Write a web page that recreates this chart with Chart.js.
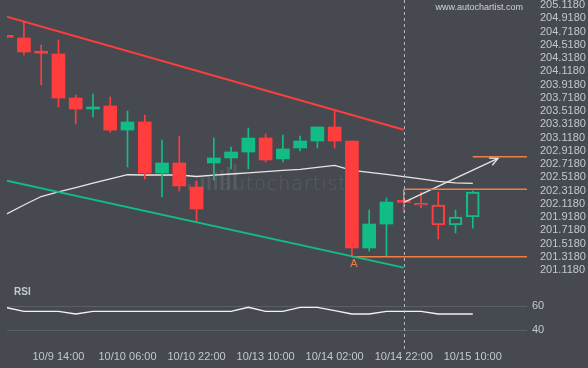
<!DOCTYPE html>
<html>
<head>
<meta charset="utf-8">
<script src="https://cdn.jsdelivr.net/npm/chart.js@4.4.1/dist/chart.umd.min.js"></script>
<style>
  html, body { margin: 0; padding: 0; background: #464a50; }
  #wrap { position: relative; width: 588px; height: 368px; overflow: hidden; background: #464a50; }
  #main { position: absolute; left: 0; top: 0; }
  #rsi { position: absolute; left: 0; top: 280px; }
</style>
</head>
<body>
<div id="wrap">
  <canvas id="main" width="588" height="280"></canvas>
  <canvas id="rsi" width="588" height="88"></canvas>
</div>
<script>
// 4h candles, index 0..27 (24+ are projected)
const opens  = [204.64, 204.62, 204.408, 204.378, 203.714, 203.548, 203.593, 203.23, 203.352, 202.582, 202.733, 202.37, 202.733, 202.809, 202.899, 203.11, 202.794, 202.96, 203.065, 203.277, 203.065, 201.45, 201.812, 202.15, 202.125, 202.099, 201.797, 201.918];
const highs  = [204.65, 204.876, 204.514, 204.59, 203.76, 203.775, 203.73, 203.518, 203.458, 203.08, 203.14, 202.461, 203.11, 202.975, 203.261, 203.171, 203.156, 203.14, 203.277, 203.533, 203.065, 202.024, 202.205, 202.22, 202.295, 202.295, 202.024, 202.31];
const lows   = [204.62, 204.363, 203.91, 203.578, 203.322, 203.427, 203.2, 202.673, 202.492, 202.22, 202.31, 201.858, 202.477, 202.643, 202.643, 202.748, 202.748, 202.914, 202.96, 202.96, 201.314, 201.405, 201.33, 201.98, 202.054, 201.586, 201.677, 201.752];
const closes = [204.63, 204.409, 204.39, 203.714, 203.548, 203.578, 203.23, 203.352, 202.582, 202.733, 202.386, 202.039, 202.809, 202.899, 203.11, 202.778, 202.945, 203.065, 203.277, 203.065, 201.45, 201.812, 202.144, 202.14, 202.095, 201.797, 201.918, 202.295];
const movingAvg = [201.963, 202.099, 202.227, 202.297, 202.363, 202.428, 202.494, 202.556, 202.552, 202.552, 202.552, 202.529, 202.549, 202.567, 202.585, 202.602, 202.621, 202.638, 202.668, 202.698, 202.623, 202.590, 202.560, 202.529, 202.492, 202.457, 202.434, 202.427];
const rsiValues = [58.9, 55.8, 55.8, 55.8, 53.6, 55.8, 55.8, 55.8, 55.8, 55.8, 55.8, 55.8, 55.8, 55.8, 59.2, 55.8, 55.8, 59.2, 59.2, 56.4, 53.6, 53.6, 55.8, 55.8, 55.8, 53.6, 53.6, 53.6];
const futureStart = 24;
const nowIndex = 23;

const resistance = [204.941, 203.235];   // at index 0 and nowIndex
const support    = [202.466, 201.154];
const levels     = [202.828, 202.336, 201.319];
const levelStart = [27, 23, 20];
const arrowFrom  = [23, 202.14];
const arrowTo    = [28.46, 202.804];

const yTickLabels = ['205.1180', '204.9180', '204.7180', '204.5180', '204.3180', '204.1180', '203.9180', '203.7180', '203.5180', '203.3180', '203.1180', '202.9180', '202.7180', '202.5180', '202.3180', '202.1180', '201.9180', '201.7180', '201.5180', '201.3180', '201.1180'];
const rsiTicks = [60, 40];
const xTickIdx = [3, 7, 11, 15, 19, 23, 27];
const xTickLabels = ['10/9 14:00', '10/10 06:00', '10/10 22:00', '10/13 10:00', '10/14 02:00', '10/14 22:00', '10/15 10:00'];

const RED = '#ff3d3d', GREEN = '#12bd85', ORANGE = '#f07d42', TXT = '#c3c7ce', BG = '#464a50';
const X_MIN = 0.02, X_MAX = 30.14;
const FONT = 'Liberation Sans, Arial, sans-serif';

const colorOf = i => closes[i] >= opens[i] ? GREEN : RED;
const idx = opens.map((_, i) => i);

const bodies = {
  type: 'bar', order: 1, grouped: false, barThickness: 13, minBarLength: 2, borderSkipped: false,
  data: idx.map(i => ({ x: i, y: [opens[i], closes[i]] })),
  backgroundColor: idx.map(i => i < futureStart ? colorOf(i) : 'rgba(0,0,0,0)'),
  borderColor: idx.map(colorOf),
  borderWidth: idx.map(i => i < futureStart ? 0 : 1.5)
};
const wickUp = {
  type: 'bar', order: 2, grouped: false, barThickness: 1, borderWidth: 0,
  data: idx.map(i => ({ x: i, y: [Math.max(opens[i], closes[i]), highs[i]] })),
  backgroundColor: idx.map(colorOf)
};
const wickDown = {
  type: 'bar', order: 2, grouped: false, barThickness: 1, borderWidth: 0,
  data: idx.map(i => ({ x: i, y: [lows[i], Math.min(opens[i], closes[i])] })),
  backgroundColor: idx.map(colorOf)
};
const lineDs = (pts, color, width, order) => ({
  type: 'line', order: order, data: pts, borderColor: color, borderWidth: width,
  pointRadius: 0, fill: false, tension: 0
});

const mainDatasets = [
  lineDs(movingAvg.map((v, i) => ({ x: i, y: v })), '#e6e6e6', 1.3, 3),
  bodies, wickUp, wickDown,
  lineDs([{ x: 0, y: resistance[0] }, { x: nowIndex, y: resistance[1] }], RED, 2, 0),
  lineDs([{ x: 0, y: support[0] }, { x: nowIndex, y: support[1] }], GREEN, 2, 0),
  ...levels.map((v, k) => lineDs([{ x: levelStart[k], y: v }, { x: X_MAX, y: v }], ORANGE, 1.5, 0)),
  lineDs([{ x: arrowFrom[0], y: arrowFrom[1] }, { x: arrowTo[0], y: arrowTo[1] }], '#e6e6e6', 1.3, 0)
];
const arrowIdx = mainDatasets.length - 1;

const noPad = s => { s.paddingTop = 0; s.paddingBottom = 0; };

const decor = {
  id: 'decor',
  beforeDatasetsDraw(chart) {
    const { ctx } = chart;
    // watermark
    ctx.save();
    ctx.fillStyle = 'rgba(110,114,120,0.4)';
    const hs = [6, 9, 12, 15, 18, 20, 23, 26];
    hs.forEach((h, k) => {
      const bx = 188 + k * 6.5;
      ctx.fillRect(bx, 190 - h, 3, h);
    });
    ctx.font = '300 19px "DejaVu Sans", sans-serif';
    ctx.fillStyle = 'rgba(100,104,111,0.6)';
    ctx.textBaseline = 'alphabetic';
    if ('letterSpacing' in ctx) ctx.letterSpacing = '1px';
    ctx.fillText('autochartist', 220, 190);
    ctx.restore();
  },
  afterDatasetsDraw(chart) {
    const { ctx, scales: { x, y } } = chart;
    ctx.save();
    // arrow head
    const pts = chart.getDatasetMeta(arrowIdx).data;
    const a = pts[0], b = pts[1];
    const ang = Math.atan2(b.y - a.y, b.x - a.x);
    ctx.strokeStyle = '#e6e6e6';
    ctx.lineWidth = 1.3;
    ctx.beginPath();
    ctx.moveTo(b.x - 9 * Math.cos(ang - 0.45), b.y - 9 * Math.sin(ang - 0.45));
    ctx.lineTo(b.x, b.y);
    ctx.lineTo(b.x - 9 * Math.cos(ang + 0.45), b.y - 9 * Math.sin(ang + 0.45));
    ctx.stroke();
    // box edge
    const nx = x.getPixelForValue(nowIndex);
    ctx.strokeStyle = ORANGE;
    ctx.lineWidth = 1.5;
    ctx.beginPath();
    ctx.moveTo(nx, y.getPixelForValue(levels[1]));
    ctx.lineTo(nx, y.getPixelForValue(closes[nowIndex]));
    ctx.stroke();
    // dashed "now" line
    ctx.strokeStyle = '#b4b8be';
    ctx.lineWidth = 1;
    ctx.setLineDash([3, 3]);
    ctx.beginPath();
    ctx.moveTo(Math.round(nx) + 0.5, 0);
    ctx.lineTo(Math.round(nx) + 0.5, chart.height);
    ctx.stroke();
    ctx.setLineDash([]);
    // point label
    ctx.fillStyle = ORANGE;
    ctx.font = '11px ' + FONT;
    ctx.textAlign = 'center';
    ctx.textBaseline = 'middle';
    ctx.fillText('A', x.getPixelForValue(20) + 2, y.getPixelForValue(levels[2]) + 7);
    // site
    ctx.fillStyle = '#cfd3d9';
    ctx.font = '9px ' + FONT;
    ctx.textAlign = 'right';
    ctx.fillText('www.autochartist.com', 523, 8);
    ctx.restore();
  }
};

new Chart(document.getElementById('main'), {
  data: { datasets: mainDatasets },
  options: {
    responsive: false, animation: false, events: [],
    layout: { padding: { left: 7, right: 0, top: 0, bottom: 0 } },
    plugins: { legend: { display: false }, tooltip: { enabled: false } },
    scales: {
      x: { type: 'linear', min: X_MIN, max: X_MAX, offset: false, display: false },
      y: {
        position: 'right', min: 200.967, max: 205.1935,
        grid: { display: false }, border: { display: false },
        afterBuildTicks: s => { s.ticks = yTickLabels.map(t => ({ value: parseFloat(t) })); },
        afterFit: s => { s.width = 61; noPad(s); },
        ticks: { color: TXT, padding: 5, autoSkip: false, font: { size: 11, family: FONT }, callback: v => v.toFixed(4) }
      }
    }
  },
  plugins: [decor]
});

const rsiDecor = {
  id: 'rsiDecor',
  afterDatasetsDraw(chart) {
    const { ctx, scales: { x } } = chart;
    ctx.save();
    const nx = Math.round(x.getPixelForValue(nowIndex)) + 0.5;
    ctx.strokeStyle = '#b4b8be';
    ctx.lineWidth = 1;
    ctx.setLineDash([3, 3]);
    ctx.beginPath();
    ctx.moveTo(nx, 0);
    ctx.lineTo(nx, chart.chartArea.bottom + 4);
    ctx.stroke();
    ctx.setLineDash([]);
    ctx.fillStyle = TXT;
    ctx.font = 'bold 10px ' + FONT;
    ctx.textBaseline = 'middle';
    ctx.fillText('RSI', 14, 12);
    ctx.restore();
  }
};

new Chart(document.getElementById('rsi'), {
  type: 'line',
  data: { datasets: [{
    data: rsiValues.map((v, i) => ({ x: i, y: v })),
    borderColor: '#f2f2f2', borderWidth: 1.3, pointRadius: 0, tension: 0
  }] },
  options: {
    responsive: false, animation: false, events: [],
    layout: { padding: { left: 7, right: 0, top: 5, bottom: 2 } },
    plugins: { legend: { display: false }, tooltip: { enabled: false } },
    scales: {
      x: {
        type: 'linear', min: X_MIN, max: X_MAX, offset: false,
        grid: { display: false, drawTicks: false }, border: { display: false },
        afterBuildTicks: s => { s.ticks = xTickIdx.map(v => ({ value: v })); },
        afterFit: s => { s.paddingLeft = 0; s.paddingRight = 0; s.height = 20; },
        ticks: {
          color: TXT, padding: 4, maxRotation: 0, autoSkip: false, font: { size: 11, family: FONT },
          callback: v => xTickLabels[xTickIdx.indexOf(v)]
        }
      },
      y: {
        position: 'right', min: 26.9, max: 77.8,
        grid: { color: '#5a5e65', drawTicks: false }, border: { display: false },
        afterBuildTicks: s => { s.ticks = rsiTicks.map(v => ({ value: v })); },
        afterFit: s => { s.width = 61; noPad(s); },
        ticks: { color: TXT, padding: 5, font: { size: 11, family: FONT } }
      }
    }
  },
  plugins: [rsiDecor]
});
</script>
</body>
</html>
